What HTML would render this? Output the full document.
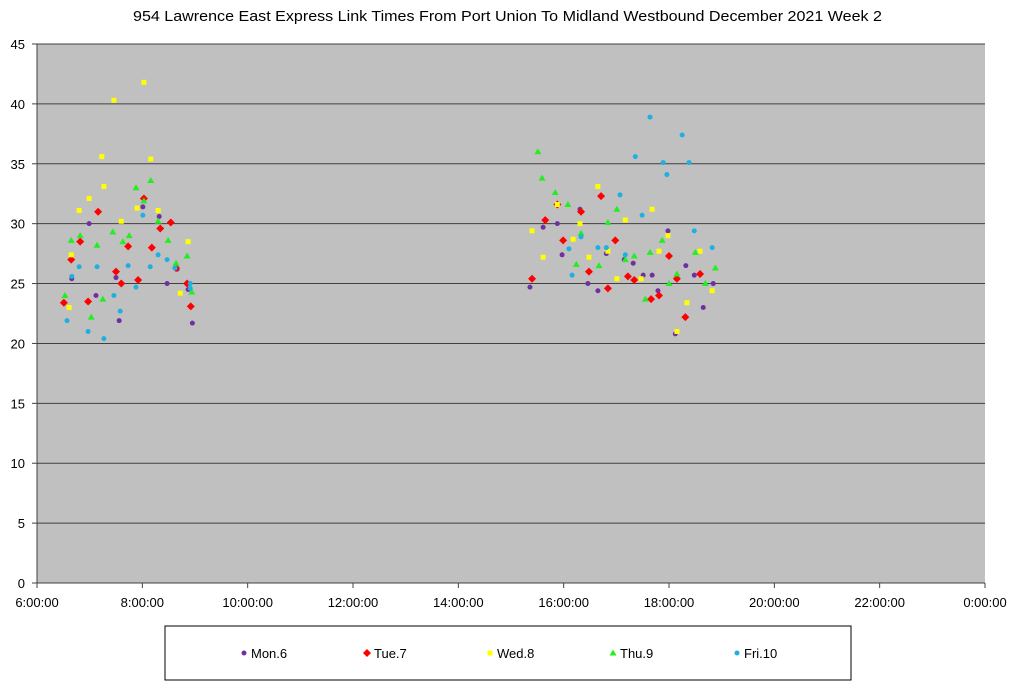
<!DOCTYPE html>
<html><head><meta charset="utf-8"><style>
body{margin:0;background:#fff;font-family:"Liberation Sans",sans-serif;}
svg text{font-family:"Liberation Sans",sans-serif;}
</style></head><body>
<svg id="chart" width="1024" height="686" xmlns="http://www.w3.org/2000/svg">
<text x="133" y="21" font-size="15" textLength="749" lengthAdjust="spacingAndGlyphs">954 Lawrence East Express Link Times From Port Union To Midland Westbound December 2021  Week 2</text>
<rect x="37" y="44" width="948" height="539" fill="#c0c0c0"/>
<g id="grid"></g><g id="axes"></g><g id="marks"></g>
<rect x="165" y="626" width="686" height="54" fill="#fff" stroke="#000" stroke-width="1"/>
<g id="legend"></g>
</svg>
<script>
const yTicks=[0,5,10,15,20,25,30,35,40,45];
const xTicks=[6,8,10,12,14,16,18,20,22,24];
const xTickLabels=["6:00:00","8:00:00","10:00:00","12:00:00","14:00:00","16:00:00","18:00:00","20:00:00","22:00:00","0:00:00"];
const seriesNames=["Mon.6","Tue.7","Wed.8","Thu.9","Fri.10"];
const monT=[6.99,6.66,7.12,7.50,7.56,8.01,8.32,8.47,8.66,8.87,8.95,15.36,15.61,15.88,15.97,16.31,16.46,16.65,16.81,17.15,17.32,17.51,17.68,17.79,17.98,18.32,18.48,18.65,18.84,18.12];
const monV=[30.0,25.4,24.0,25.5,21.9,31.4,30.6,25.0,26.2,24.5,21.7,24.7,29.7,30.0,27.4,31.2,25.0,24.4,27.5,27.0,26.7,25.7,25.7,24.4,29.4,26.5,25.7,23.0,25.0,20.8];
const tueT=[7.16,6.82,6.65,6.51,6.97,7.50,7.60,7.73,7.92,8.03,8.18,8.34,8.54,8.64,8.85,8.92,15.40,15.65,15.88,15.99,16.33,16.71,16.48,16.84,16.98,17.22,17.34,17.66,17.81,18.00,18.15,18.31,18.59];
const tueV=[31.0,28.5,27.0,23.4,23.5,26.0,25.0,28.1,25.3,32.1,28.0,29.6,30.1,26.3,25.0,23.1,25.4,30.3,31.6,28.6,31.0,32.3,26.0,24.6,28.6,25.6,25.3,23.7,24.0,27.3,25.4,22.2,25.8];
const wedT=[8.03,7.46,7.23,8.16,7.27,6.99,6.80,7.60,7.90,8.30,6.65,6.61,8.72,8.87,15.40,15.61,15.88,16.18,16.31,16.65,16.48,16.84,17.17,17.68,17.01,17.47,17.81,17.98,18.34,18.59,18.82,18.15];
const wedV=[41.8,40.3,35.6,35.4,33.1,32.1,31.1,30.2,31.3,31.1,27.4,23.0,24.2,28.5,29.4,27.2,31.6,28.7,30.0,33.1,27.2,27.7,30.3,31.2,25.4,25.4,27.7,29.0,23.4,27.7,24.4,21.0];
const thuT=[8.16,7.88,6.82,6.65,7.14,7.44,7.75,7.63,8.03,8.30,8.49,8.64,8.85,8.94,6.53,7.03,7.25,15.51,15.59,15.84,16.08,16.33,16.24,16.67,16.84,17.01,17.17,17.34,17.55,17.64,17.87,18.00,18.15,18.50,18.69,18.88];
const thuV=[33.6,33.0,29.0,28.6,28.2,29.3,29.0,28.5,31.9,30.2,28.6,26.7,27.3,24.3,24.0,22.2,23.7,36.0,33.8,32.6,31.6,29.2,26.6,26.5,30.1,31.2,27.0,27.3,23.7,27.6,28.6,25.0,25.8,27.6,25.0,26.3];
const friT=[6.80,7.14,6.66,6.57,6.97,7.27,7.46,7.58,7.73,7.88,8.01,8.15,8.30,8.47,8.62,8.91,8.91,17.64,18.25,17.36,17.89,18.38,17.96,17.07,17.49,16.33,16.10,16.65,16.81,17.17,16.16,18.48,18.82];
const friV=[26.4,26.4,25.6,21.9,21.0,20.4,24.0,22.7,26.5,24.7,30.7,26.4,27.4,27.0,26.3,25.0,24.6,38.9,37.4,35.6,35.1,35.1,34.1,32.4,30.7,28.9,27.9,28.0,28.0,27.4,25.7,29.4,28.0];

const X0=37,X1=985,Y0=583,Y1=44;
const xs=h=>X0+(h-6)/18*(X1-X0);
const ys=v=>Y0-v/45*(Y0-Y1);
const NS="http://www.w3.org/2000/svg";
function mk(tag,parent,attrs){const e=document.createElementNS(NS,tag);for(const k in attrs)e.setAttribute(k,attrs[k]);parent.appendChild(e);return e;}
const grid=document.getElementById('grid'),axes=document.getElementById('axes'),marks=document.getElementById('marks'),leg=document.getElementById('legend');
yTicks.forEach(t=>{
  const y=ys(t);
  if(t>0){const l=mk('line',grid,{x1:X0,x2:X1,y1:y,y2:y,stroke:'#404040','stroke-width':1});
  
  }
  mk('line',axes,{x1:X0-5,x2:X0,y1:y,y2:y,stroke:'#404040'});
  const tx=mk('text',axes,{x:X0-12,y:y+5,'text-anchor':'end','font-size':13});tx.textContent=t;
  
  
});
xTicks.forEach((t,i)=>{
  const x=xs(t);
  mk('line',axes,{x1:x,x2:x,y1:Y0,y2:Y0+5,stroke:'#404040'});
  const tx=mk('text',axes,{x:x,y:607,'text-anchor':'middle','font-size':13});tx.textContent=xTickLabels[i];
  
  
});
mk('line',axes,{x1:X0,x2:X0,y1:Y1,y2:Y0,stroke:'#404040'});
mk('line',axes,{x1:X0,x2:X1,y1:Y0,y2:Y0,stroke:'#404040'});
const colors=['#7030a0','#ff0000','#ffff00','#22ee22','#1fb0e0'];
function marker(g,kind,x,y,c){
  if(kind===0||kind===4)return mk('circle',g,{cx:x,cy:y,r:2.5,fill:c});
  if(kind===1)return mk('polygon',g,{points:`${x},${y-4} ${x+4},${y} ${x},${y+4} ${x-4},${y}`,fill:c});
  if(kind===2)return mk('rect',g,{x:x-2.5,y:y-2.5,width:5,height:5,fill:c});
  return mk('polygon',g,{points:`${x},${y-3.5} ${x+3.5},${y+2.5} ${x-3.5},${y+2.5}`,fill:c});
}
const series=[[monT,monV],[tueT,tueV],[wedT,wedV],[thuT,thuV],[friT,friV]];
series.forEach((s,k)=>{
  s[0].forEach((t,i)=>{
    const m=marker(marks,k,xs(t),ys(s[1][i]),colors[k]);
    
    
  });
});
const legX=[244,367,490,613,737];
seriesNames.forEach((n,k)=>{
  const g=mk('g',leg,{});
  
  
  marker(g,k,legX[k],653,colors[k]);
  const tx=mk('text',g,{x:legX[k]+7,y:658,'font-size':13});tx.textContent=n;
});
</script>
</body></html>
